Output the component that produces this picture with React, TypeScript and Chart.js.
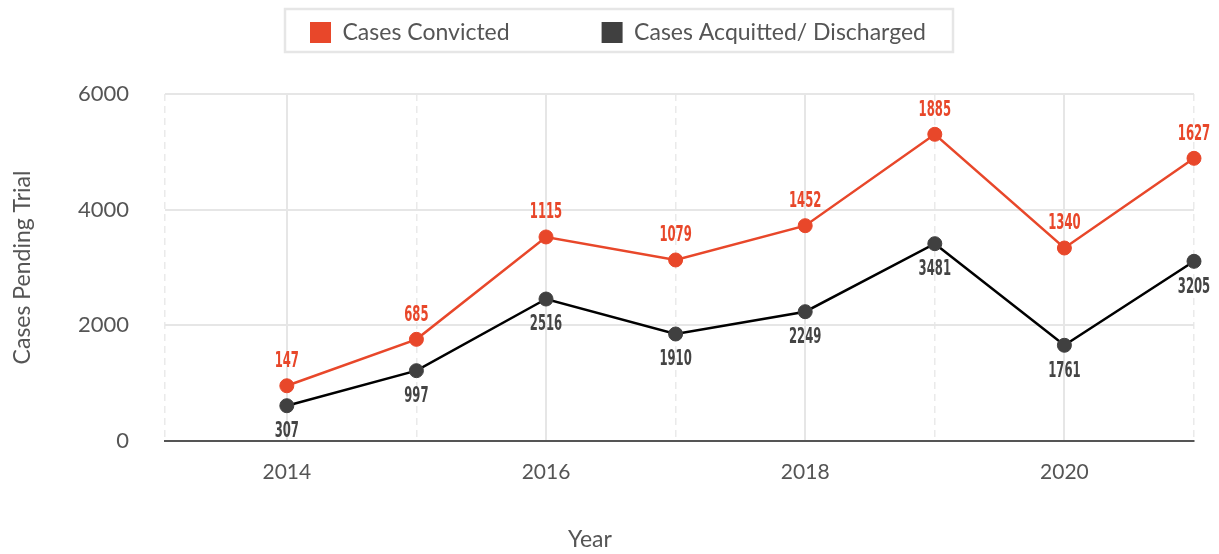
import React, { useEffect, useRef } from 'react';
import { Chart, registerables } from 'chart.js';

Chart.register(...registerables);

// ---- data ----
const years = [2014, 2015, 2016, 2017, 2018, 2019, 2020, 2021];
const convictedValues = [955, 1758, 3528, 3130, 3723, 5303, 3337, 4888];
const acquittedValues = [610, 1216, 2455, 1850, 2236, 3412, 1655, 3107];
const convictedLabels = ['147', '685', '1115', '1079', '1452', '1885', '1340', '1627'];
const acquittedLabels = ['307', '997', '2516', '1910', '2249', '3481', '1761', '3205'];
const yTicks = [0, 2000, 4000, 6000];
const xLabelYears = [2014, 2016, 2018, 2020];
const xStart = 2013.06;
const xEnd = 2021;
const seriesNames = ['Cases Convicted', 'Cases Acquitted/ Discharged'];
const yTitle = 'Cases Pending Trial';
const xTitle = 'Year';

const ORANGE = '#e8472a';
const DARK = '#404040';
const TEXT = '#555555';
const GRID = '#e6e6e6';
const FONT = "Lato, 'Open Sans', sans-serif";

const LEGEND_START_X = 310;
const LEGEND_ITEM_Y = 21;

const pointLabelPlugin = {
  id: 'pointLabels',
  afterDatasetsDraw(chart: any) {
    const ctx = chart.ctx;
    const specs = [
      { index: 0, labels: convictedLabels, color: ORANGE, dy: -25 },
      { index: 1, labels: acquittedLabels, color: '#444444', dy: 25 },
    ];
    ctx.save();
    ctx.font = "bold 21px 'Liberation Sans Narrow', 'DejaVu Sans Condensed', 'Arial Narrow', sans-serif";
    ctx.textAlign = 'center';
    ctx.textBaseline = 'middle';
    for (const s of specs) {
      const meta = chart.getDatasetMeta(s.index);
      meta.data.forEach((pt: any, i: number) => {
        const text = s.labels[i];
        const w = ctx.measureText(text).width;
        const sx = Math.min(1, (8.1 * text.length) / w);
        ctx.save();
        ctx.translate(pt.x, pt.y + s.dy);
        ctx.scale(sx, 1);
        ctx.fillStyle = s.color;
        ctx.fillText(text, 0, 1);
        ctx.restore();
      });
    }
    ctx.restore();
  },
};

const legendFramePlugin = {
  id: 'legendFrame',
  beforeLayout(chart: any) {
    const lg: any = chart.legend;
    if (!lg || lg.__patched) return;
    lg.__patched = true;
    const fit = lg.fit;
    lg.fit = function () {
      fit.call(this);
      this.height = 94;
    };
    const draw = lg.draw;
    lg.draw = function () {
      const pad = this.options.labels.padding;
      const hb = this.legendHitBoxes || [];
      const t = this.top;
      const l = this.left;
      const r = this.right;
      const dx = hb.length ? LEGEND_START_X - hb[0].left : 0;
      this.top = t + LEGEND_ITEM_Y - pad;
      this.left = l + dx;
      this.right = r + dx;
      draw.call(this);
      this.top = t;
      this.left = l;
      this.right = r;
      if (hb.length) {
        const first = hb[0];
        const last = hb[hb.length - 1];
        const x0 = first.left + dx - 25;
        const x1 = last.left + dx + last.width + 27;
        const itemY = t + LEGEND_ITEM_Y;
        const y0 = itemY - 12;
        const y1 = itemY + first.height + 8;
        const ctx = this.ctx;
        ctx.save();
        ctx.strokeStyle = GRID;
        ctx.lineWidth = 2.5;
        ctx.strokeRect(x0, y0, x1 - x0, y1 - y0);
        ctx.restore();
      }
    };
  },
};

const xTitlePlugin = {
  id: 'xTitle',
  afterDraw(chart: any) {
    const ctx = chart.ctx;
    ctx.save();
    ctx.font = `23px ${FONT}`;
    ctx.fillStyle = TEXT;
    ctx.textAlign = 'center';
    ctx.textBaseline = 'middle';
    ctx.fillText(xTitle, chart.width * 0.484, 540);
    ctx.restore();
  },
};

export default function App() {
  const canvasRef = useRef<HTMLCanvasElement | null>(null);

  useEffect(() => {
    if (!canvasRef.current) return;
    Chart.defaults.font.family = FONT;
    const isLabelYear = (v: any) => xLabelYears.includes(v);
    const chart = new Chart(canvasRef.current, {
      type: 'line',
      data: {
        datasets: [
          {
            label: seriesNames[0],
            data: years.map((x, i) => ({ x, y: convictedValues[i] })),
            borderColor: ORANGE,
            backgroundColor: ORANGE,
            borderWidth: 2.5,
            pointRadius: 7,
            pointBackgroundColor: ORANGE,
            pointBorderColor: ORANGE,
            pointBorderWidth: 1,
            tension: 0,
            clip: false as any,
          },
          {
            label: seriesNames[1],
            data: years.map((x, i) => ({ x, y: acquittedValues[i] })),
            borderColor: '#000000',
            backgroundColor: DARK,
            borderWidth: 2.5,
            pointRadius: 7,
            pointBackgroundColor: DARK,
            pointBorderColor: DARK,
            pointBorderWidth: 1,
            tension: 0,
            clip: false as any,
          },
        ],
      },
      options: {
        animation: false,
        responsive: true,
        maintainAspectRatio: false,
        events: [],
        layout: { padding: { top: 0, left: 0, right: 25, bottom: 0 } },
        plugins: {
          tooltip: { enabled: false },
          title: { display: false },
          legend: {
            display: true,
            position: 'top',
            labels: {
              color: TEXT,
              font: { size: 23, family: FONT },
              boxWidth: 21,
              boxHeight: 21,
              padding: 92,
              generateLabels: (c: any) =>
                (Chart.defaults.plugins.legend.labels as any)
                  .generateLabels(c)
                  .map((it: any) => ({ ...it, strokeStyle: it.fillStyle, lineWidth: 0 })),
            },
          },
        },
        scales: {
          x: {
            type: 'linear',
            min: xStart,
            max: xEnd,
            afterBuildTicks: (scale: any) => {
              scale.ticks = [xStart, ...years].map((v) => ({ value: v }));
            },
            afterFit: (scale: any) => {
              scale.height = 113;
            },
            ticks: {
              autoSkip: false,
              maxRotation: 0,
              padding: 19,
              color: TEXT,
              font: { size: 21, family: FONT },
              callback: (v: any) => (isLabelYear(v) ? String(v) : ''),
            },
            grid: {
              drawTicks: false,
              color: (c: any) => (c.tick && isLabelYear(c.tick.value) ? GRID : '#eaeaea'),
              lineWidth: (c: any) => (c.tick && isLabelYear(c.tick.value) ? 2 : 1.5),
            },
            border: {
              display: true,
              color: TEXT,
              width: 2,
              dash: (c: any) => (c.tick && !isLabelYear(c.tick.value) ? [7, 5] : []),
            } as any,
          },
          y: {
            type: 'linear',
            min: 0,
            max: 6000,
            afterBuildTicks: (scale: any) => {
              scale.ticks = yTicks.map((v) => ({ value: v }));
            },
            afterFit: (scale: any) => {
              scale.width = 165;
            },
            ticks: {
              padding: 36,
              color: TEXT,
              font: { size: 22, family: FONT },
              callback: (v: any) => String(v),
            },
            grid: { drawTicks: false, color: GRID, lineWidth: 2 },
            border: { display: false },
            title: {
              display: true,
              text: yTitle,
              color: TEXT,
              font: { size: 23, family: FONT },
              padding: { top: 9, bottom: 0 },
            },
          },
        },
      },
      plugins: [pointLabelPlugin, legendFramePlugin, xTitlePlugin],
    } as any);
    return () => chart.destroy();
  }, []);

  return (
    <div style={{ position: 'fixed', left: 0, top: 0, width: 1219, height: 554, background: '#ffffff' }}>
      <canvas ref={canvasRef} />
    </div>
  );
}
